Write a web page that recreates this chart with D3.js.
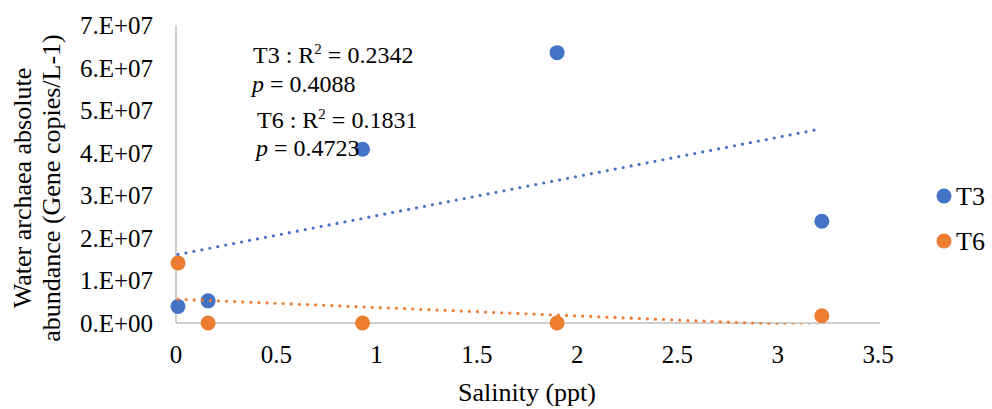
<!DOCTYPE html>
<html>
<head>
<meta charset="utf-8">
<script src="https://cdn.jsdelivr.net/npm/d3@7/dist/d3.min.js"></script>
<style>
  html, body { margin: 0; padding: 0; background: #fff; }
  svg { display: block; }
</style>
</head>
<body>
<svg id="chart" width="992" height="409" font-family="'Liberation Serif', 'DejaVu Serif', serif"></svg>
<script>
// Salinity (ppt) of each sample
const salinity = [0.01, 0.16, 0.93, 1.90, 3.22];
// Water archaea absolute abundance (gene copies / L)
const t3Values = [3.9e6, 5.2e6, 4.08e7, 6.35e7, 2.39e7];
const t6Values = [1.41e7, 0, 0, 0, 1.7e6];
const seriesNames = ["T3", "T6"];
const seriesColors = ["#4472C4", "#ED7D31"];
const xTicks = [0, 0.5, 1, 1.5, 2, 2.5, 3, 3.5];
const yTicks = [0, 1e7, 2e7, 3e7, 4e7, 5e7, 6e7, 7e7];
const statLines = [
  { name: "T3", r2: "0.2342", p: "0.4088" },
  { name: "T6", r2: "0.1831", p: "0.4723" }
];

const svg = d3.select("#chart");
const plot = { left: 176, right: 878, top: 25, bottom: 323 };

const x = d3.scaleLinear().domain([0, 3.5]).range([plot.left, plot.right]);
const y = d3.scaleLinear().domain([0, 7e7]).range([plot.bottom, plot.top]);

// Axis lines (no tick marks)
svg.append("line")
  .attr("x1", x(0)).attr("x2", x(3.5) + 2)
  .attr("y1", y(0)).attr("y2", y(0))
  .attr("stroke", "#BFBFBF").attr("stroke-width", 1.5);
svg.append("line")
  .attr("x1", x(0)).attr("x2", x(0))
  .attr("y1", y(0)).attr("y2", y(7e7))
  .attr("stroke", "#BFBFBF").attr("stroke-width", 1.5);

// Tick labels
const fmtSci = v => {
  if (v === 0) return "0.E+00";
  const e = Math.floor(Math.log10(v));
  const m = Math.round(v / Math.pow(10, e));
  return m + ".E+" + String(e).padStart(2, "0");
};
svg.append("g").selectAll("text").data(yTicks).join("text")
  .attr("x", 153).attr("y", d => y(d) + 9)
  .attr("text-anchor", "end").attr("font-size", 25)
  .text(fmtSci);
svg.append("g").selectAll("text").data(xTicks).join("text")
  .attr("x", d => x(d)).attr("y", 363)
  .attr("text-anchor", "middle").attr("font-size", 25)
  .text(d => d3.format("")(d));

// Axis titles
svg.append("text")
  .attr("x", 527).attr("y", 401)
  .attr("text-anchor", "middle").attr("font-size", 26)
  .text("Salinity (ppt)");
const yTitle = svg.append("g").attr("transform", "translate(0,188) rotate(-90)");
yTitle.append("text").attr("x", 0).attr("y", 31)
  .attr("text-anchor", "middle").attr("font-size", 26)
  .text("Water archaea absolute");
yTitle.append("text").attr("x", 0).attr("y", 60)
  .attr("text-anchor", "middle").attr("font-size", 26)
  .text("abundance (Gene copies/L-1)");

// Markers
const series = [t3Values, t6Values];
series.forEach((vals, i) => {
  svg.append("g").selectAll("circle")
    .data(vals.map((v, j) => ({ x: salinity[j], y: v })))
    .join("circle")
    .attr("cx", d => x(d.x)).attr("cy", d => y(d.y))
    .attr("r", 7.5).attr("fill", seriesColors[i]);
});

// Least-squares trendlines, clipped to the plot area
svg.append("clipPath").attr("id", "plotClip")
  .append("rect")
  .attr("x", plot.left).attr("y", plot.top)
  .attr("width", plot.right - plot.left).attr("height", plot.bottom - plot.top + 1.5);

function fit(xs, ys) {
  const mx = d3.mean(xs), my = d3.mean(ys);
  let sxy = 0, sxx = 0;
  xs.forEach((xv, k) => { sxy += (xv - mx) * (ys[k] - my); sxx += (xv - mx) ** 2; });
  const slope = sxy / sxx;
  return { slope, intercept: my - slope * mx };
}
const xMin = d3.min(salinity), xMax = d3.max(salinity);
series.forEach((vals, i) => {
  const f = fit(salinity, vals);
  const pts = [xMin, xMax].map(s => [s, f.intercept + f.slope * s]);
  svg.append("path")
    .attr("clip-path", "url(#plotClip)")
    .attr("d", d3.line().x(d => x(d[0])).y(d => y(d[1]))(pts))
    .attr("fill", "none")
    .attr("stroke", seriesColors[i])
    .attr("stroke-width", 3.2)
    .attr("stroke-linecap", "round")
    .attr("stroke-dasharray", "0 8.1");
});

// Regression statistics
const stats = svg.append("g").attr("font-size", 24);
const statPos = [{ x: 253, y1: 63, y2: 92 }, { x: 257, y1: 128, y2: 156 }];
statLines.forEach((s, i) => {
  const t = stats.append("text").attr("x", statPos[i].x).attr("y", statPos[i].y1);
  t.append("tspan").text(s.name + " : R");
  t.append("tspan").attr("font-size", 15).attr("dy", -9).text("2");
  t.append("tspan").attr("dy", 9).text(" = " + s.r2);
  const p = stats.append("text").attr("x", statPos[i].x - 1).attr("y", statPos[i].y2);
  p.append("tspan").attr("font-style", "italic").text("p");
  p.append("tspan").text(" = " + s.p);
});

// Legend
const legend = svg.append("g");
seriesNames.forEach((n, i) => {
  const cy = 196 + i * 45;
  legend.append("circle").attr("cx", 944).attr("cy", cy).attr("r", 7.5).attr("fill", seriesColors[i]);
  legend.append("text").attr("x", 956).attr("y", cy + 9).attr("font-size", 26).text(n);
});
</script>
</body>
</html>
